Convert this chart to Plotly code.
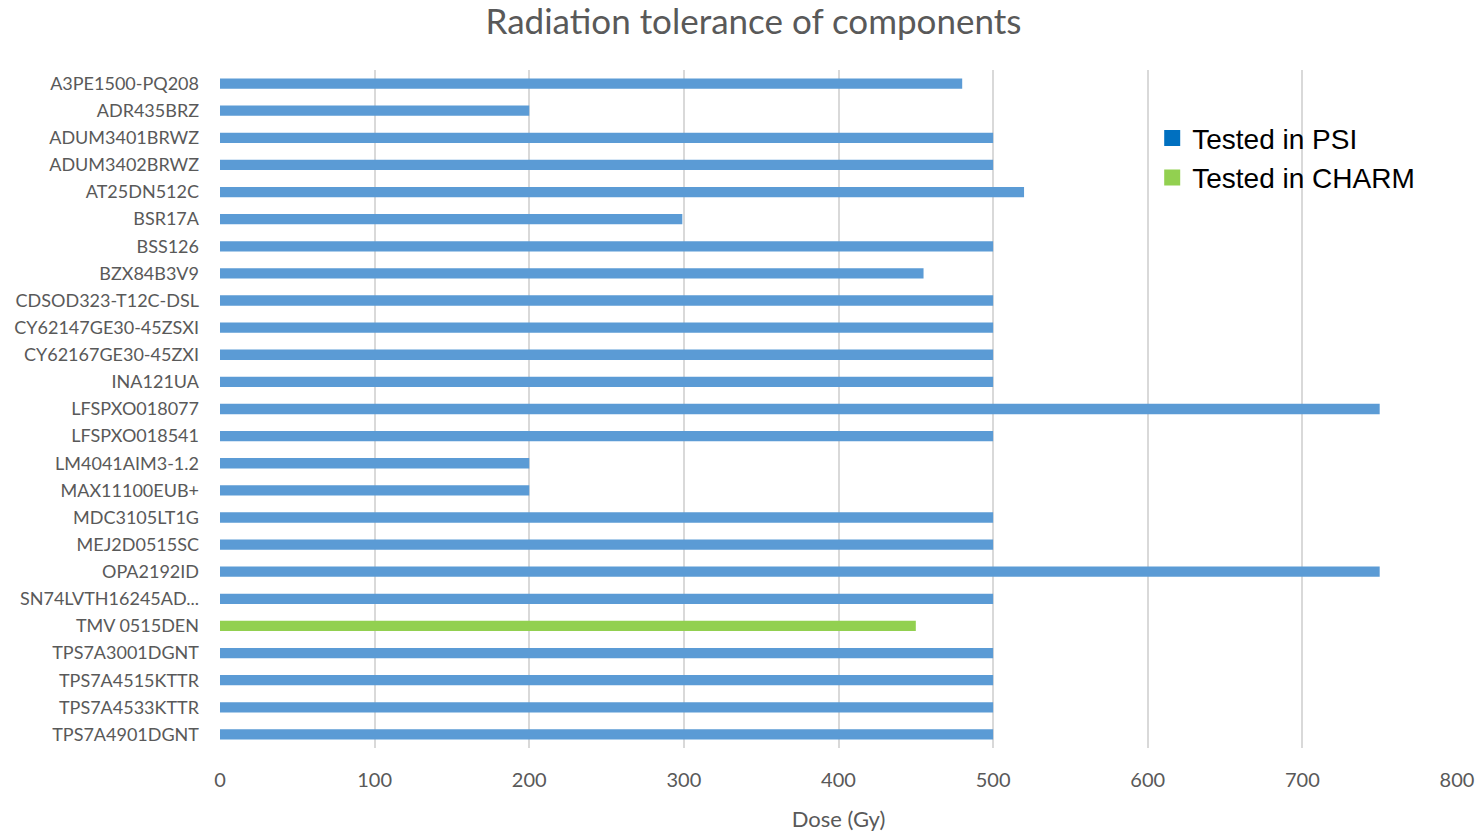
import plotly.graph_objects as go

components = [
    "A3PE1500-PQ208", "ADR435BRZ", "ADUM3401BRWZ", "ADUM3402BRWZ", "AT25DN512C",
    "BSR17A", "BSS126", "BZX84B3V9", "CDSOD323-T12C-DSL", "CY62147GE30-45ZSXI",
    "CY62167GE30-45ZXI", "INA121UA", "LFSPXO018077", "LFSPXO018541", "LM4041AIM3-1.2",
    "MAX11100EUB+", "MDC3105LT1G", "MEJ2D0515SC", "OPA2192ID", "SN74LVTH16245AD...",
    "TMV 0515DEN", "TPS7A3001DGNT", "TPS7A4515KTTR", "TPS7A4533KTTR", "TPS7A4901DGNT",
]
dose = [480, 200, 500, 500, 520,
        299, 500, 455, 500, 500,
        500, 500, 750, 500, 200,
        200, 500, 500, 750, 500,
        450, 500, 500, 500, 500]
facility = ["PSI"] * 20 + ["CHARM"] + ["PSI"] * 4

bar_colors = {"PSI": "#5B9BD5", "CHARM": "#92D050"}
legend_colors = {"PSI": "#0070C0", "CHARM": "#92D050"}
legend_names = {"PSI": "Tested in PSI", "CHARM": "Tested in CHARM"}

fig = go.Figure()
fig.add_trace(go.Bar(
    y=components, x=dose, orientation="h",
    marker=dict(color=[bar_colors[f] for f in facility], line=dict(width=0)),
    width=0.38, showlegend=False,
))
for key in ["PSI", "CHARM"]:
    fig.add_trace(go.Scatter(
        x=[None], y=[None], mode="markers", name=legend_names[key],
        marker=dict(symbol="square", size=20, color=legend_colors[key]),
    ))

fig.update_layout(
    width=1484, height=832,
    margin=dict(l=220, r=27, t=70, b=84),
    paper_bgcolor="white", plot_bgcolor="white",
    font=dict(family="Lato", color="#595959"),
    title=dict(text="Radiation tolerance of components", x=753.5 / 1484, xanchor="center",
               y=1 - 22 / 832, yanchor="middle", yref="container",
               font=dict(size=35, color="#595959", family="Lato")),
    legend=dict(x=0.7536, y=0.936, xanchor="left", yanchor="top",
                bgcolor="rgba(0,0,0,0)", itemsizing="trace",
                font=dict(family="Liberation Sans", size=28, color="black"),
                tracegroupgap=6),
    bargap=0.62,
)
fig.update_xaxes(
    range=[0, 800], dtick=100, showgrid=True, gridcolor="#D9D9D9", gridwidth=1.5,
    zeroline=False, showline=False, ticks="", ticklabelstandoff=18, automargin=False,
    tickfont=dict(size=20, color="#595959"),
    title=dict(text="Dose (Gy)", font=dict(size=22, color="#595959"), standoff=21),
)
fig.update_yaxes(
    categoryorder="array", categoryarray=components, autorange="reversed",
    showgrid=False, zeroline=False, showline=False, ticks="", ticklabelstandoff=20,
    automargin=False,
    tickfont=dict(size=18, color="#595959"),
)

fig.write_html("out.html")
